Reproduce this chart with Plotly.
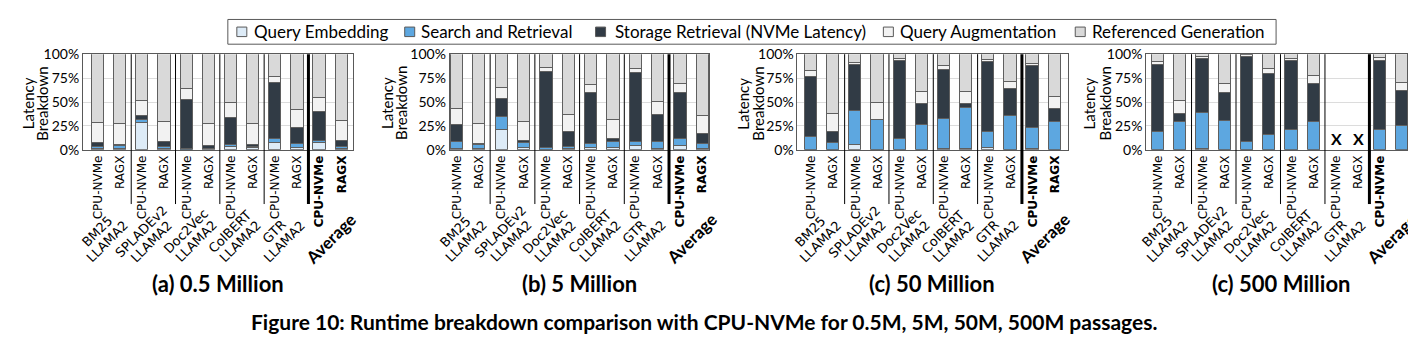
import plotly.graph_objects as go

W, H = 1408, 350

bar_labels = ["CPU-NVMe", "RAGX"] * 6
group_line1 = ["BM25", "SPLADEv2", "Doc2Vec", "ColBERT", "GTR", "Average"]
group_line2 = ["LLAMA2", "LLAMA2", "LLAMA2", "LLAMA2", "LLAMA2", ""]
panel_titles = ["(a) 0.5 Million", "(b) 5 Million", "(c) 50 Million", "(c) 500 Million"]
series_names = ["Query Embedding", "Search and Retrieval", "Storage Retrieval (NVMe Latency)",
                "Query Augmentation", "Referenced Generation"]
series_colors = ["#DDEBF7", "#5DA7E0", "#313B45", "#F2F2F2", "#D9D9D9"]
caption = "Figure 10: Runtime breakdown comparison with CPU-NVMe for 0.5M, 5M, 50M, 500M passages."

# ---- 0.5 Million (percent) ----
m05_qe = [1, 0.5, 28, 1, 0, 0.5, 3, 1.5, 7, 2, 7, 1]
m05_sr = [2, 3.5, 2.5, 2, 0.5, 0.5, 2, 1, 4.5, 4, 2, 1.5]
m05_st = [4, 0.5, 5, 5, 51.5, 3, 28, 2.5, 58, 17, 30, 6]
m05_qa = [21, 22.5, 15.5, 21, 11.5, 22.5, 15.7, 21.5, 6.5, 18, 15, 21.5]
m05_rg = [72, 73, 49, 71, 36.5, 73.5, 51.3, 73.5, 24, 59, 46, 70]

# ---- 5 Million ----
m5_qe = [0.5, 0.5, 20, 2, 0, 0.5, 2, 2, 4, 1, 4, 1]
m5_sr = [7.5, 4, 14, 5, 1.5, 2.5, 4, 5.5, 4, 7, 7, 5]
m5_st = [18, 1.5, 19, 2, 79.5, 15, 53, 3.5, 72, 28, 48, 10]
m5_qa = [17, 21, 11, 20, 4, 18, 9, 20, 4, 14, 10, 19]
m5_rg = [57, 73, 36, 71, 15, 64, 32, 69, 16, 50, 31, 65]

# ---- 50 Million ----
m50_qe = [0, 0, 4.5, 0, 0, 0, 1, 0.5, 1.5, 0, 1, 0]
m50_sr = [13, 7, 35.5, 31, 11.5, 25.5, 31, 43.5, 16.5, 35, 22, 29]
m50_st = [63, 11, 48, 0.5, 81.5, 22.5, 51.5, 4, 74, 28, 64, 13]
m50_qa = [6, 19, 3, 17, 2, 12, 4, 12, 2, 8, 3, 13]
m50_rg = [18, 63, 9, 51.5, 5, 40, 12.5, 40, 6, 29, 10, 45]

# ---- 500 Million (GTR not available) ----
m500_qe = [0, 0, 1, 0, 0, 0, 0, 0, None, None, 0, 0]
m500_sr = [18, 29, 37.5, 30, 8, 15, 20, 29, None, None, 21, 25]
m500_st = [70, 8, 56.5, 29, 89, 64, 73, 40, None, None, 72, 36]
m500_qa = [4, 14, 2, 10, 1.5, 5, 2, 8, None, None, 3, 9]
m500_rg = [8, 49, 3, 31, 1.5, 16, 5, 23, None, None, 4, 30]

panels = [
    [m05_qe, m05_sr, m05_st, m05_qa, m05_rg],
    [m5_qe, m5_sr, m5_st, m5_qa, m5_rg],
    [m50_qe, m50_sr, m50_st, m50_qa, m50_rg],
    [m500_qe, m500_sr, m500_st, m500_qa, m500_rg],
]
missing_bars = [[], [], [], [8, 9]]

# layout geometry (pixels)
x_px = [(83, 353), (450, 710), (798, 1069), (1147, 1408)]
x_ranges = [(-0.68, 11.5), (-0.31, 11.31), (-0.63, 11.59), (-0.54, 11.19)]
y_top, y_bot = 47.5, 148
latency_x = [28, 387, 744, 1090]
breakdown_x = [42.5, 401, 759, 1106]
ytitle_y = 99
subtitle_x = [218, 580, 933, 1282]
sep_bottom = 205
subtitle_y = 289
caption_y = 328

# legend geometry (pixels)
legend_box = (228, 11, 1277, 37)
legend_sq_x = [237, 405, 596, 884, 1076]
legend_txt_x = [252, 419, 613, 899, 1091]
legend_y = 24

FONT = "Lato"
TICKFONT = "DejaVu Sans"


def px_x(p):
    return p / W


def px_y(p):
    return 1 - p / H


def data_to_px(pi, xv):
    r0, r1 = x_ranges[pi]
    a, b = x_px[pi]
    return a + (xv - r0) / (r1 - r0) * (b - a)


fig = go.Figure()
xs = list(range(12))

for pi, series in enumerate(panels):
    suffix = "" if pi == 0 else str(pi + 1)
    for si, vals in enumerate(series):
        fig.add_trace(go.Bar(
            x=xs,
            y=[None if v is None else v / 100 for v in vals],
            name=series_names[si],
            marker=dict(color=series_colors[si], line=dict(color="#5f5f5f", width=1)),
            width=0.55,
            xaxis="x" + suffix,
            yaxis="y" + suffix,
            showlegend=False,
        ))

layout = dict(
    width=W, height=H,
    margin=dict(l=0, r=0, t=0, b=0),
    paper_bgcolor="white", plot_bgcolor="white",
    barmode="stack",
    bargap=0,
    font=dict(family=FONT, color="black"),
    showlegend=False,
)

ticktext = [t if i < 10 else "<b>%s</b>" % t for i, t in enumerate(bar_labels)]

shapes = []
annotations = []

# manual legend
shapes.append(dict(type="rect", xref="paper", yref="paper",
                   x0=px_x(legend_box[0]), x1=px_x(legend_box[2]),
                   y0=px_y(legend_box[3]), y1=px_y(legend_box[1]),
                   line=dict(color="#595959", width=1), fillcolor="white", layer="below"))
for si, name in enumerate(series_names):
    sx = legend_sq_x[si]
    shapes.append(dict(type="rect", xref="paper", yref="paper",
                       x0=px_x(sx), x1=px_x(sx + 10),
                       y0=px_y(legend_y + 5), y1=px_y(legend_y - 5),
                       line=dict(color="#595959", width=1), fillcolor=series_colors[si]))
    annotations.append(dict(text=name, xref="paper", yref="paper",
                            x=px_x(legend_txt_x[si]), y=px_y(legend_y),
                            xanchor="left", yanchor="middle", showarrow=False,
                            font=dict(size=17, family=FONT, color="black")))

for pi in range(4):
    suffix = "" if pi == 0 else str(pi + 1)
    xk = "xaxis" + suffix
    yk = "yaxis" + suffix
    layout[xk] = dict(
        domain=[px_x(x_px[pi][0]), px_x(x_px[pi][1])],
        range=list(x_ranges[pi]),
        anchor="y" + suffix,
        tickmode="array", tickvals=xs, ticktext=ticktext,
        tickangle=-90, tickfont=dict(size=12, family=TICKFONT, color="black"),
        showline=True, mirror=True, linecolor="#595959", linewidth=1,
        showgrid=False, zeroline=False, ticks="", fixedrange=True,
    )
    layout[yk] = dict(
        domain=[px_y(y_bot), px_y(y_top)],
        range=[0, 1],
        anchor="x" + suffix,
        tickmode="array", tickvals=[0, 0.25, 0.5, 0.75, 1],
        ticktext=["0%", "25%", "50%", "75%", "100%"],
        tickfont=dict(size=14, family=FONT, color="black"),
        showline=True, mirror=True, linecolor="#595959", linewidth=1,
        showgrid=True, gridcolor="#DCDCDC", gridwidth=1,
        zeroline=False, ticks="", fixedrange=True,
    )
    # group separators
    for xv in [1.5, 3.5, 5.5, 7.5, 9.5]:
        shapes.append(dict(
            type="line", xref="x" + suffix, yref="paper",
            x0=xv, x1=xv, y0=px_y(y_top), y1=px_y(sep_bottom),
            line=dict(color="black", width=3 if xv == 9.5 else 1),
        ))
    # group labels (rotated, one annotation per line)
    for g in range(6):
        gcx = data_to_px(pi, 2 * g + 0.5)
        if g == 5:
            annotations.append(dict(
                text="<b>%s</b>" % group_line1[g], xref="paper", yref="paper",
                x=px_x(gcx), y=px_y(241), textangle=-45, showarrow=False,
                font=dict(size=17, family=FONT, color="black"),
                xanchor="center", yanchor="middle",
            ))
        else:
            annotations.append(dict(
                text=group_line1[g], xref="paper", yref="paper",
                x=px_x(gcx - 12), y=px_y(234), textangle=-45, showarrow=False,
                font=dict(size=13, family=TICKFONT, color="black"),
                xanchor="center", yanchor="middle",
            ))
            annotations.append(dict(
                text=group_line2[g], xref="paper", yref="paper",
                x=px_x(gcx - 2), y=px_y(244), textangle=-45, showarrow=False,
                font=dict(size=13, family=TICKFONT, color="black"),
                xanchor="center", yanchor="middle",
            ))
    # y-axis title (two lines, rotated)
    for txt, tx in (("Latency", latency_x[pi]), ("Breakdown", breakdown_x[pi])):
        annotations.append(dict(
            text=txt, xref="paper", yref="paper",
            x=px_x(tx), y=px_y(ytitle_y), textangle=-90,
            showarrow=False, font=dict(size=15, family=FONT, color="black"),
            xanchor="center", yanchor="middle",
        ))
    # panel subtitle
    annotations.append(dict(
        text="<b>%s</b>" % panel_titles[pi], xref="paper", yref="paper",
        x=px_x(subtitle_x[pi]), y=px_y(subtitle_y),
        showarrow=False, font=dict(size=22, family=FONT, color="black"),
        xanchor="center", yanchor="middle",
    ))
    # missing markers
    for mb in missing_bars[pi]:
        annotations.append(dict(
            text="<b>X</b>", xref="x" + suffix, yref="y" + suffix,
            x=mb, y=0, yanchor="bottom", xanchor="center", showarrow=False,
            font=dict(size=16, family=FONT, color="black"),
        ))

annotations.append(dict(
    text="<b>%s</b>" % caption,
    xref="paper", yref="paper", x=px_x(704), y=px_y(caption_y),
    showarrow=False, font=dict(size=21, family=FONT, color="black"),
    xanchor="center", yanchor="middle",
))

layout["shapes"] = shapes
layout["annotations"] = annotations
fig.update_layout(**layout)

fig.write_html(
    "out.html",
    post_script="document.body.style.margin='0px';document.body.style.overflow='hidden';",
)
